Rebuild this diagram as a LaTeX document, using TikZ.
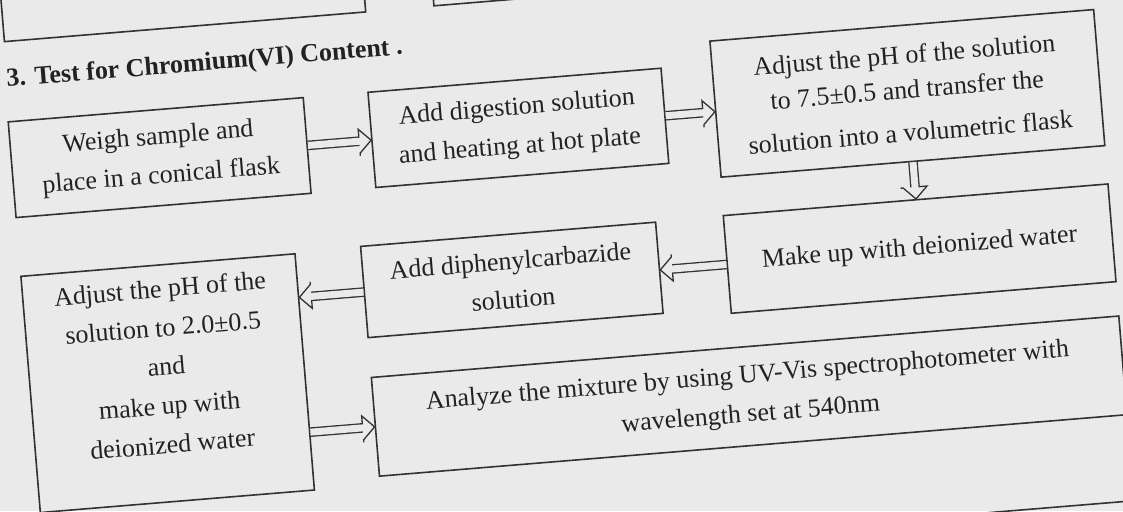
\documentclass[tikz,border=0pt]{standalone}
\usepackage{fontspec}
\setmainfont{Liberation Serif}
\usetikzlibrary{calc,decorations.markings}
\definecolor{paper}{RGB}{234,234,234}
\definecolor{ink}{RGB}{50,50,50}
\definecolor{txtc}{RGB}{34,34,34}
\begin{document}
\begin{tikzpicture}[x=1pt,y=1pt,
  box/.style={draw=ink, line width=1.6pt, rectangle, inner sep=0pt, text=txtc,
    align=center, font=\fontsize{26}{39}\selectfont},
  txt/.style={inner sep=0pt, text=txtc, align=center, font=\fontsize{26}{39}\selectfont},
  title/.style={inner sep=0pt, text=txtc, font=\fontsize{26}{32}\selectfont\bfseries},
  headmark/.style={decorate, decoration={markings, mark=at position 1 with {
      \fill[paper] (-12,3.6) -- (-12,12) -- (0,0) -- (-12,-12) -- (-12,-3.6) -- cycle;
      \draw[ink, line width=1.3pt, line join=miter]
        (-12,3.6) -- (-12,12) -- (0,0) -- (-12,-12) -- (-12,-3.6);}}},
  flowarrow/.style={draw=ink, line width=1.3pt, double=paper, double distance=7pt,
    shorten >=11pt, postaction={headmark}},
]
\useasboundingbox (0,0) rectangle (1123,511);
\fill[paper] (0,0) rectangle (1123,511);
\clip (0,0) rectangle (1123,511);
\begin{scope}[rotate around={4.7:(561.5,255.5)}, transform shape]
  % fragments of neighbouring boxes
  \node[box, minimum width=362.5, minimum height=200, anchor=south west] (P1) at (23,513.5) {};
  \node[box, minimum width=658, minimum height=200, anchor=south west] (P2) at (454,514) {};
  \node[box, minimum width=750, minimum height=200, anchor=north west] (P3) at (362,-35) {};
  % title
  \node[title, anchor=base west] (T) at (22.7,469) {3. Test for Chromium(VI) Content .};
  % boxes
  \node[box, minimum width=296, minimum height=96] (A) at (169,386)
    {Weigh sample and\\place in a conical flask};
  \node[box, minimum width=294, minimum height=95.5] (B) at (529,386.25)
    {Add digestion solution\\and heating at hot plate};
  \node[box, minimum width=385, minimum height=136.5] (C) at (919.5,388.75)
    {Adjust the pH of the solution\\[-4pt]to 7.5±0.5 and transfer the\\[4pt]solution into a volumetric flask};
  \node[box, minimum width=386, minimum height=98] (D) at (919,233)
    {Make up with deionized water};
  \node[box, minimum width=296, minimum height=91.5] (E) at (510,235.25)
    {Add diphenylcarbazide\\solution};
  \node[box, minimum width=275, minimum height=237] (F) at (158.5,160.5) {};
  \node[txt] (Ft) at (158.5,177.5)
    {Adjust the pH of the\\solution to 2.0±0.5\\and\\make up with\\deionized water};
  \node[box, minimum width=750, minimum height=99] (G) at (737,100)
    {Analyze the mixture by using UV-Vis spectrophotometer with\\wavelength set at 540nm};
  % connectors
  \draw[flowarrow] (A.east) -- ($(B.south west)!(A.east)!(B.north west)$);
  \draw[flowarrow] (B.east) -- ($(C.south west)!(B.east)!(C.north west)$);
  \draw[flowarrow] (C.south) -- ($(D.north west)!(C.south)!(D.north east)$);
  \draw[flowarrow] (D.west) -- ($(E.south east)!(D.west)!(E.north east)$);
  \draw[flowarrow] (E.west) -- ($(F.south east)!(E.west)!(F.north east)$);
  \draw[flowarrow] ($(F.south east)!(G.west)!(F.north east)$) -- (G.west);
\end{scope}
\end{tikzpicture}
\end{document}
